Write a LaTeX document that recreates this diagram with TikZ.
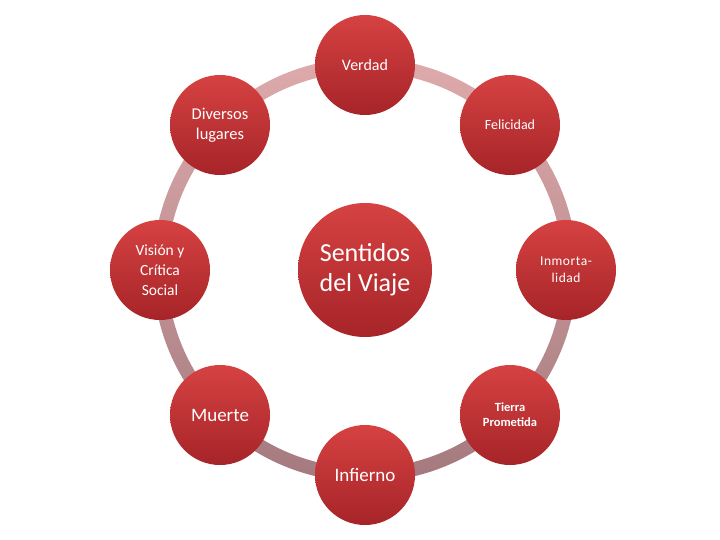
\documentclass[tikz,border=0pt]{standalone}
\usepackage{fontspec}
\setmainfont{Carlito}
\definecolor{ringtop}{RGB}{222,170,172}
\definecolor{ringbot}{RGB}{164,122,126}
\definecolor{bubtop}{RGB}{214,66,66}
\definecolor{bubbot}{RGB}{166,36,40}
\begin{document}
\begin{tikzpicture}[x=1pt,y=-1pt,
  bub/.style={circle, minimum size=100pt, inner sep=0pt, top color=bubtop, bottom color=bubbot, text=white, align=center},
  big/.style={bub, minimum size=134pt}]
\useasboundingbox (0,0) rectangle (720,540);
\coordinate (c) at (365,270);
\shade[top color=ringtop, bottom color=ringbot, even odd rule] (c) circle (212pt) (c) circle (198pt);
\node[big, font=\fontsize{26}{30}\selectfont] (centro) at (365,270) {Sentidos\\del Viaje};
\node[bub, font=\fontsize{16}{20}\selectfont] (verdad) at (365,65) {Verdad};
\node[bub, font=\fontsize{14}{18}\selectfont] (felicidad) at (510,125) {Felicidad};
\node[bub, font=\fontsize{13.5}{17}\selectfont\addfontfeature{LetterSpace=4}] (inmortalidad) at (566,270) {Inmorta-\\lidad};
\node[bub, font=\fontsize{12.5}{15}\selectfont\bfseries] (tierra) at (510,415) {Tierra\\Prometida};
\node[bub, font=\fontsize{19}{22}\selectfont] (infierno) at (365,475) {Infierno};
\node[bub, font=\fontsize{19}{22}\selectfont] (muerte) at (220,415) {Muerte};
\node[bub, font=\fontsize{15.5}{20}\selectfont] (vision) at (160,270) {Visión y\\Crítica\\Social};
\node[bub, font=\fontsize{16.5}{20}\selectfont] (diversos) at (220,125) {Diversos\\lugares};
\end{tikzpicture}
\end{document}
